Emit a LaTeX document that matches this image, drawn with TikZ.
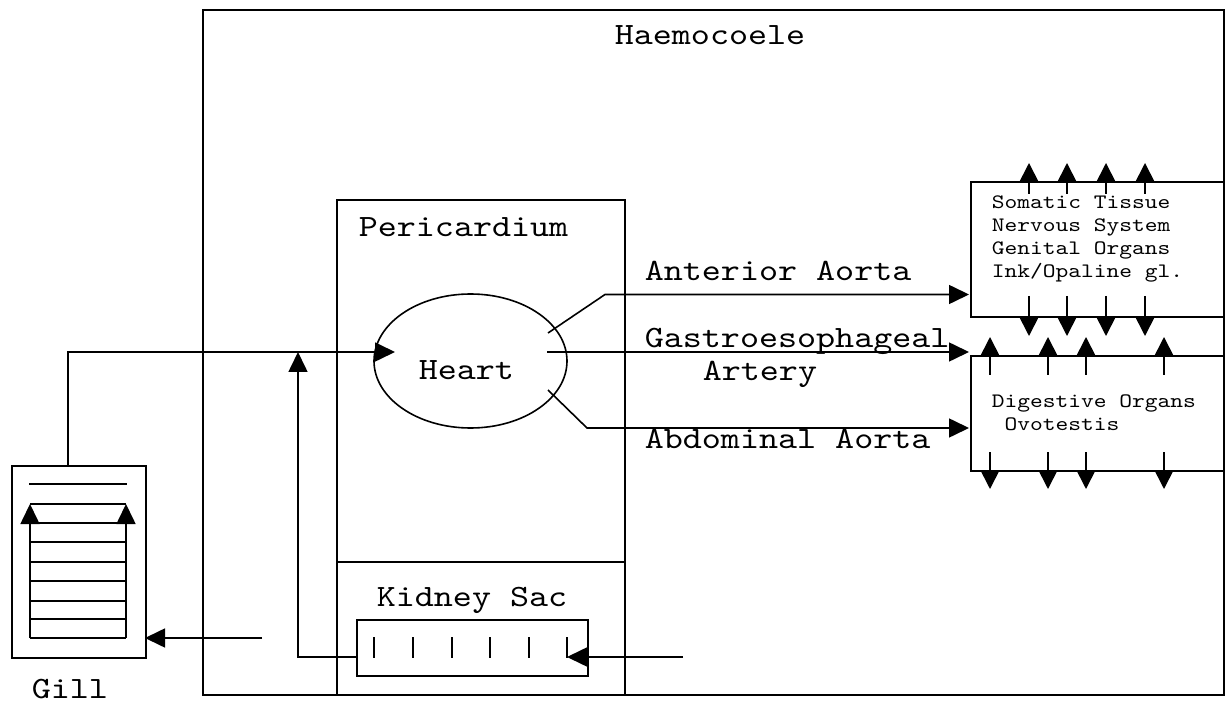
\documentclass[tikz,border=0pt]{standalone}
\usepackage{fontspec}
\newfontfamily\ttx{lmmono10-regular.otf}[FakeStretch=1.17]
\newfontfamily\ttxs{lmmono10-regular.otf}[FakeStretch=1.185]
\usetikzlibrary{arrows.meta,shapes.geometric}
\begin{document}
\begin{tikzpicture}[x=1pt,y=-1pt,line width=1.6pt,
  lbl/.style={font=\fontsize{31}{34}\selectfont\ttx,inner sep=0pt,anchor=base west},
  small/.style={font=\fontsize{20.5}{23}\selectfont\ttxs,inner sep=0pt,anchor=base west,align=left},
  box/.style={draw,inner sep=0pt,anchor=north west},
  arr/.style={-{Triangle[length=20pt,width=19pt]}},
  sarr/.style={-{Triangle[length=18pt,width=18pt]}}]
\useasboundingbox (0,0) rectangle (1227,703);
\fill[white] (0,0) rectangle (1227,703);
% boxes
\node[box,minimum width=1021pt,minimum height=685pt] (haem) at (202,9) {};
\node[box,minimum width=288pt,minimum height=495pt] (peri) at (336,199) {};
\node[box,minimum width=231pt,minimum height=56pt] (kid) at (356,619) {};
\node[box,minimum width=134pt,minimum height=192pt] (gill) at (11,465) {};
\node[box,minimum width=253pt,minimum height=135pt] (org1) at (970,181) {};
\node[box,minimum width=253pt,minimum height=115pt] (org2) at (970,355) {};
\node[draw,ellipse,minimum width=193pt,minimum height=134pt,inner sep=0pt] (heart) at (470.5,361) {};
% divider in pericardium
\coordinate (divl) at (336,562);
\coordinate (divr) at (624,562);
\draw (divl) -- (divr);
% labels
\node[lbl] (thaem) at (614,45) {Haemocoele};
\node[lbl] (tperi) at (358,237) {Pericardium};
\node[lbl] (theart) at (418,380) {Heart};
\node[lbl] (tkid) at (376,606) {Kidney Sac};
\node[lbl] (tgill) at (31,698) {Gill};
\node[lbl] (tant) at (644,281) {Anterior Aorta};
\node[lbl] (tgas) at (644,348) {Gastroesophageal};
\node[lbl] (tart) at (702,381) {Artery};
\node[lbl] (tabd) at (644,448) {Abdominal Aorta};
\node[small] (torg1) at (991,278) {Somatic Tissue\\Nervous System\\Genital Organs\\Ink/Opaline gl.};
\node[small] (torg2) at (991,431) {Digestive Organs\\\ Ovotestis};
% gill to heart
\coordinate (gtop) at (68,465);
\coordinate (hin) at (395,352);
\draw[arr] (gtop) |- (hin);
% kidney return to main vessel
\coordinate (kout) at (356,657);
\coordinate (kup) at (298,352);
\draw[arr] (kout) -| (kup);
% haemocoele to kidney
\coordinate (kin0) at (683,657);
\coordinate (kin) at (567,657);
\draw[arr] (kin0) -- (kin);
% haemocoele to gill
\coordinate (gin0) at (262,638);
\coordinate (gin) at (145,638);
\draw[arr] (gin0) -- (gin);
% arteries
\coordinate (aa0) at (548,333);
\coordinate (aa1) at (605,294.5);
\coordinate (aa2) at (969,294.5);
\draw[arr] (aa0) -- (aa1) -- (aa2);
\coordinate (ga0) at (547,352);
\coordinate (ga1) at (969,352);
\draw[arr] (ga0) -- (ga1);
\coordinate (ab0) at (548,390);
\coordinate (ab1) at (587,428);
\coordinate (ab2) at (969,428);
\draw[arr] (ab0) -- (ab1) -- (ab2);
% gill internal
\draw (29,484) -- (127,484);
\draw (30,504) -- (126,504);
\foreach \y in {523,542,562,581,601,619,638} \draw (30,\y) -- (126,\y);
\draw[arr] (30,638) -- (30,504);
\draw[arr] (126,638) -- (126,504);
% kidney ticks
\foreach \x in {374,413,452,490,529,567} \draw[line width=1.4pt] (\x,637) -- (\x,658);
% organ box 1 arrows
\foreach \x in {1029,1067,1106,1145} {
  \draw[sarr] (\x,194) -- (\x,163);
  \draw[sarr] (\x,296) -- (\x,336);
}
% organ box 2 arrows
\foreach \x in {990,1048,1086,1164} {
  \draw[sarr] (\x,375) -- (\x,337);
  \draw[sarr] (\x,452) -- (\x,489);
}
\end{tikzpicture}
\end{document}
